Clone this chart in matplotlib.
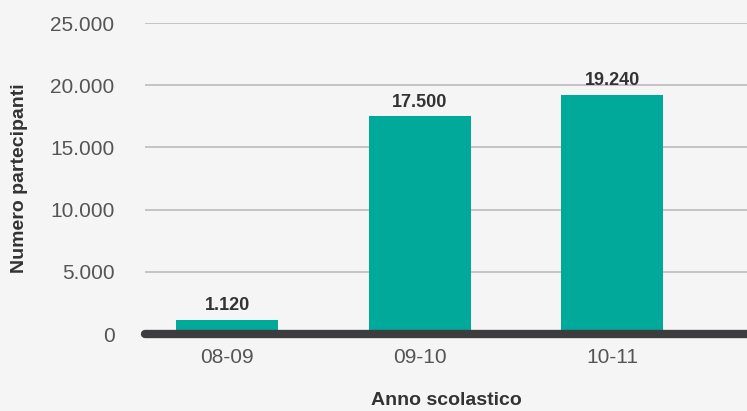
import matplotlib.pyplot as plt
from matplotlib.ticker import FuncFormatter

anni = ["08-09", "09-10", "10-11"]
partecipanti = [1120, 17500, 19240]
y_ticks = [0, 5000, 10000, 15000, 20000, 25000]

plt.rcParams['font.family'] = ['Liberation Sans', 'DejaVu Sans']

def migliaia(v, pos=None):
    return "{:,.0f}".format(v).replace(",", ".")

fig = plt.figure(figsize=(7.47, 4.11), dpi=100, facecolor="#f5f5f5")
ax = fig.add_axes([0.1941, 0.1873, 0.8059, 0.7567], facecolor="#f5f5f5")

x = list(range(len(anni)))
ax.bar(x, partecipanti, width=0.53, color="#00a99a", zorder=2)
for xi, v in zip(x, partecipanti):
    ax.text(xi, v + 450, migliaia(v), ha="center", va="bottom",
            fontsize=13, fontweight="bold", color="#333333")

# gridlines and thick baseline
ax.set_yticks(y_ticks)
ax.yaxis.set_major_formatter(FuncFormatter(migliaia))
ax.grid(axis="y", color="#c4c4c4", linewidth=1.4, zorder=0)
ax.axhline(0, color="#3d3d3f", linewidth=6, solid_capstyle="round",
           zorder=3, clip_on=False)

ax.set_ylim(0, 25000)
ax.set_xlim(-0.426, 2.70)
ax.set_xticks(x)
ax.set_xticklabels(anni)
for s in ax.spines.values():
    s.set_visible(False)
ax.tick_params(axis="both", length=0, labelsize=15, labelcolor="#555555")
ax.tick_params(axis="y", pad=22)
ax.tick_params(axis="x", pad=10)

ax.set_ylabel("Numero partecipanti", fontsize=14, fontweight="bold",
              color="#333333", labelpad=16)
ax.set_xlabel("Anno scolastico", fontsize=14, fontweight="bold",
              color="#333333", labelpad=18)

fig.savefig("out.png", dpi=100, facecolor=fig.get_facecolor())
